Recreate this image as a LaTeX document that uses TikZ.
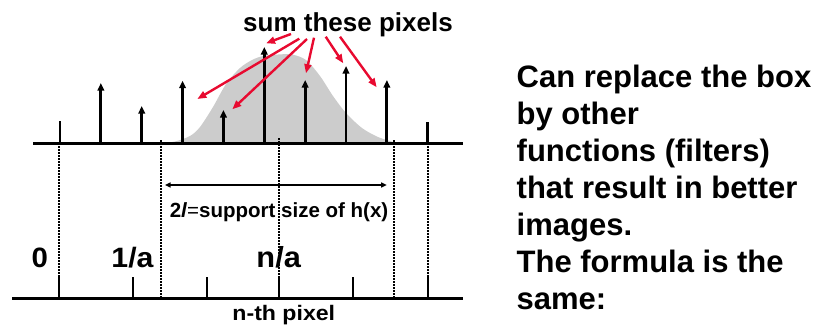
\documentclass[tikz,border=0pt]{standalone}
\usepackage{fontspec}
\setmainfont{Liberation Sans}
\usetikzlibrary{arrows.meta}
\definecolor{redarrow}{RGB}{232,10,48}
\definecolor{hump}{RGB}{204,204,204}
\newcommand{\fsz}[1]{\fontsize{#1}{#1}\selectfont}
\begin{document}
\begin{tikzpicture}[x=1pt,y=-1pt,
  axis/.style={line width=2.8pt},
  spike/.style={line width=2.8pt,-{Triangle[length=7.5pt,width=6.5pt]}},
  bar/.style={line width=2.8pt},
  tickmark/.style={line width=2.2pt},
  dots/.style={line width=2pt,dash pattern=on 1.6pt off 1.4pt},
  pointer/.style={redarrow,line width=2.4pt,-{Triangle[length=9pt,width=7pt]}},
  span/.style={line width=1.6pt,{Triangle[length=5.5pt,width=5pt]}-{Triangle[length=5.5pt,width=5pt]}},
  lbl/.style={inner sep=0pt,font=\bfseries}]
\useasboundingbox (0,0) rectangle (825,325);

% gray hump
\fill[hump] plot[smooth] coordinates {(161,143.3) (175,141.5) (190,136) (200,127) (213,107) (226,84) (240,68) (252,60) (263,56) (278,54.5) (292,54.5) (306,60) (320,76) (333,96) (346,113) (362,128) (378,137) (395,142.5)} -- (395,143.3) -- cycle;

% top axis
\coordinate (tl) at (33,143.3);
\coordinate (tr) at (463,143.3);
\draw[axis] (tl) -- (tr);

% spikes
\coordinate (s0b) at (60,143.3);
\coordinate (s0t) at (60,121);
\draw[bar] (s0b) -- (s0t);
\coordinate (s9b) at (427.7,143.3);
\coordinate (s9t) at (427.7,122);
\draw[bar] (s9b) -- (s9t);
\foreach \i/\tp in {1/83,2/106,3/80.7,4/110,5/47,6/80,7/66,8/80}{
  \coordinate (s\i b) at ({60+40.86*\i},143.3);
  \coordinate (s\i t) at ({60+40.86*\i},\tp);
  \draw[spike] (s\i b) -- (s\i t);
}

% bottom axis
\coordinate (bl) at (12,298.5);
\coordinate (br) at (463,298.5);
\draw[axis] (bl) -- (br);
\foreach \j/\x in {0/59.3,1/133,2/207,3/279.3,4/353,5/427.7}{
  \coordinate (t\j a) at (\x,298.5);
  \coordinate (t\j b) at (\x,277);
  \draw[tickmark] (t\j a) -- (t\j b);
}

% labels
\node[lbl,anchor=base west,font=\bfseries\fsz{26}] (sum) at (243,31.7) {sum these pixels};
\node[lbl,anchor=base,font=\bfseries\fsz{20.5}] (supp) at (279,217) {2\textit{l}{\mdseries=}support size of h(x)};
\node[lbl,anchor=base west,font=\bfseries\fsz{28}] (zero) at (31.5,267) {\scalebox{1.05}[1]{0}};
\node[lbl,anchor=base,font=\bfseries\fsz{28}] (onea) at (132.5,267) {\scalebox{1.08}[1]{1/a}};
\node[lbl,anchor=base,font=\bfseries\fsz{29}] (na) at (278.7,267) {\scalebox{1.06}[1]{n/a}};
\node[lbl,anchor=base,font=\bfseries\fsz{21}] (nth) at (283.8,320) {\scalebox{1.1}[1]{n-th pixel}};

% dotted lines
\foreach \k/\x/\tp in {0/59.3/143,1/161/140,2/279.3/138,3/394/140,4/427.7/143}{
  \coordinate (d\k a) at (\x,\tp);
  \coordinate (d\k b) at (\x,298);
  \draw[dots] (d\k a) -- (d\k b);
}

% support arrow
\coordinate (spl) at (165,185);
\coordinate (spr) at (386.7,185);
\draw[span] (spl) -- (spr);

% red pointers
\foreach \m/\sx/\sy/\ex/\ey in {1/291/34/266/43.3, 2/299.3/38.7/197.3/99, 3/307/39/232.3/109.3, 4/314/37.7/306/73.3, 5/325.7/36.7/343.3/63.3, 6/340/36.7/376.7/87.3}{
  \coordinate (p\m s) at (\sx,\sy);
  \coordinate (p\m e) at (\ex,\ey);
  \draw[pointer] (p\m s) -- (p\m e);
}

% right text
\foreach \n/\txt in {0/{Can replace the box},1/{by other},2/{functions (filters)},3/{that result in better},4/{images.},5/{The formula is the},6/{same:}}{
  \node[lbl,anchor=base west,font=\bfseries\fsz{31}] (line\n) at (516.5,{87+37*\n}) {\txt};
}
\end{tikzpicture}
\end{document}
